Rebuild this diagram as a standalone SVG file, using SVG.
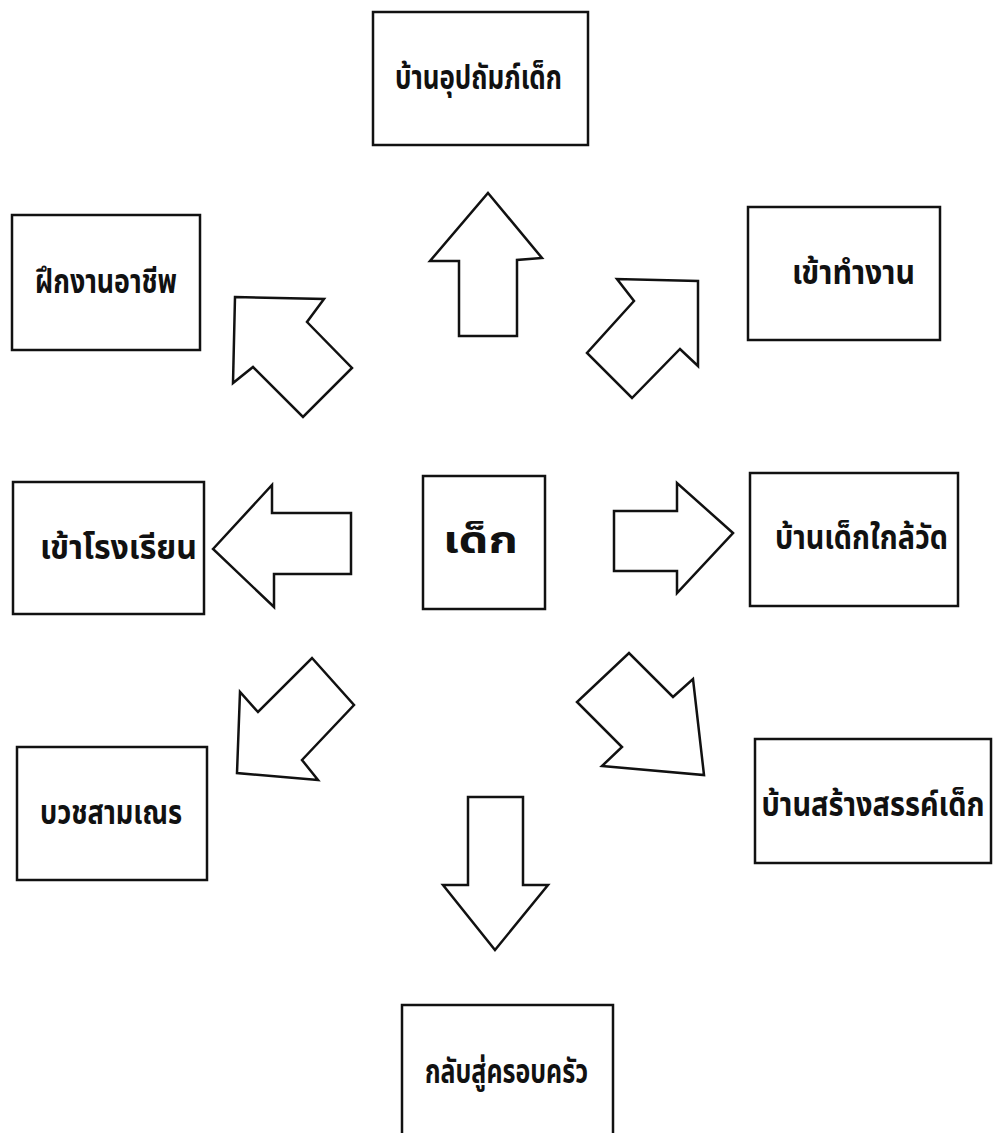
<svg xmlns="http://www.w3.org/2000/svg" width="993" height="1133" viewBox="0 0 993 1133">
<style>
.box{fill:#fff;stroke:#111;stroke-width:2.5}
.arr{fill:#fff;stroke:#111;stroke-width:2.5;stroke-linejoin:miter}
.t{font-family:"Noto Sans Thai","Noto Sans","DejaVu Sans",sans-serif;font-weight:bold;font-size:34px;fill:#111}
</style>
<rect width="993" height="1133" fill="#fff"/>
<g id="connectors">
<polygon class="arr" points="488,193 542,258 517,260 517,336 459,336 459,261 430,261"/>
<polygon class="arr" points="235,297 324,299 307,322 352,368 303,417 253,367 233,383"/>
<polygon class="arr" points="698,281 698,366 680,349 632,398 587,353 634,301 617,279"/>
<polygon class="arr" points="213,549 272,485 272,513 351,513 351,574 274,574 274,607"/>
<polygon class="arr" points="733,533 677,483 677,511 614,511 614,571 677,571 677,593"/>
<polygon class="arr" points="237,773 240,692 258,712 312,658 354,705 302,760 318,780"/>
<polygon class="arr" points="704,775 693,679 673,697 629,653 577,702 622,747 602,766"/>
<polygon class="arr" points="495,950 548,885 523,885 523,797 468,797 468,885 443,885"/>
</g>
<g id="n-top"><rect class="box" x="373" y="12" width="215" height="133"/><text class="t" x="395" y="89" textLength="167" lengthAdjust="spacingAndGlyphs">บ้านอุปถัมภ์เด็ก</text></g>
<g id="n-vocational"><rect class="box" x="12" y="215" width="188" height="135"/><text class="t" x="35" y="293" textLength="142" lengthAdjust="spacingAndGlyphs">ฝึกงานอาชีพ</text></g>
<g id="n-work"><rect class="box" x="748" y="207" width="192" height="133"/><text class="t" x="792" y="284" textLength="123" lengthAdjust="spacingAndGlyphs">เข้าทำงาน</text></g>
<g id="n-school"><rect class="box" x="13" y="482" width="191" height="132"/><text class="t" x="40" y="559" textLength="157" lengthAdjust="spacingAndGlyphs">เข้าโรงเรียน</text></g>
<g id="n-child"><rect class="box" x="423" y="476" width="122" height="133"/><text class="t" x="443" y="553" textLength="75" lengthAdjust="spacingAndGlyphs" style="font-size:38px">เด็ก</text></g>
<g id="n-temple"><rect class="box" x="750" y="473" width="208" height="133"/><text class="t" x="775" y="549" textLength="173" lengthAdjust="spacingAndGlyphs">บ้านเด็กใกล้วัด</text></g>
<g id="n-novice"><rect class="box" x="17" y="747" width="190" height="133"/><text class="t" x="40" y="824" textLength="142" lengthAdjust="spacingAndGlyphs">บวชสามเณร</text></g>
<g id="n-creative"><rect class="box" x="755" y="739" width="236" height="124"/><text class="t" transform="translate(873,816) scale(0.78,1)" x="0" y="0" text-anchor="middle" textLength="286" lengthAdjust="spacingAndGlyphs">บ้านสร้างสรรค์เด็ก</text></g>
<g id="n-family"><rect class="box" x="402" y="1005" width="211" height="140"/><text class="t" x="425" y="1083" textLength="163" lengthAdjust="spacingAndGlyphs">กลับสู่ครอบครัว</text></g>
</svg>
